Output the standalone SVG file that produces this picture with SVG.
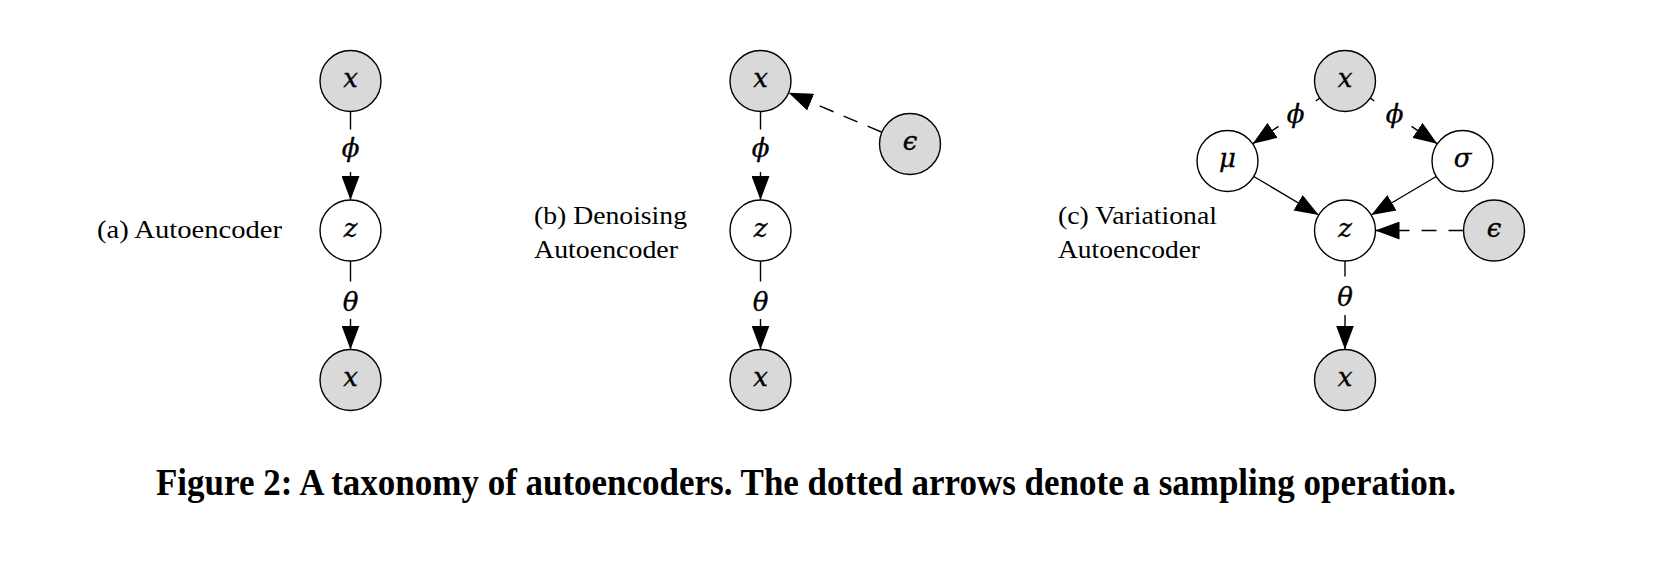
<svg xmlns="http://www.w3.org/2000/svg" width="1658" height="562" viewBox="0 0 1658 562">
<style>
.nd{stroke:#000;stroke-width:1.4}
.g{fill:#d9d9d9}
.w{fill:#fff}
.m{font-family:"DejaVu Serif","Liberation Serif",serif;font-style:italic;font-size:26px;text-anchor:middle;fill:#000;stroke:#000;stroke-width:0.35}
.lb{font-family:"Liberation Serif","DejaVu Serif",serif;font-size:25.5px;fill:#000}
.cap{font-family:"Liberation Serif","DejaVu Serif",serif;font-size:37px;font-weight:bold;fill:#000}
.e{stroke:#000;stroke-width:1.4;fill:none}
.a{marker-end:url(#ah)}
.d{stroke-dasharray:15 11}
</style>
<defs>
<marker id="ah" viewBox="0 0 24 18" refX="24" refY="9" markerWidth="24" markerHeight="18" markerUnits="userSpaceOnUse" orient="auto"><path d="M0,0 L24,9 L0,18 z" fill="#000"/></marker>
</defs>
<rect width="1658" height="562" fill="#fff"/>

<g id="connectors">
<!-- (a) -->
<line class="e" x1="350.5" y1="111.5" x2="350.5" y2="129.5"/>
<line class="e a" x1="350.5" y1="172" x2="350.5" y2="200"/>
<line class="e" x1="350.5" y1="261" x2="350.5" y2="281.5"/>
<line class="e a" x1="350.5" y1="319" x2="350.5" y2="349.5"/>
<!-- (b) -->
<line class="e" x1="760.5" y1="111.5" x2="760.5" y2="129.5"/>
<line class="e a" x1="760.5" y1="172" x2="760.5" y2="200"/>
<line class="e" x1="760.5" y1="261" x2="760.5" y2="281.5"/>
<line class="e a" x1="760.5" y1="319" x2="760.5" y2="349.5"/>
<line class="e a d" x1="881.4" y1="132" x2="788.6" y2="92.8"/>
<!-- (c) -->
<line class="e" x1="1319.8" y1="98.2" x2="1315.7" y2="101"/>
<line class="e a" x1="1278.5" y1="126.3" x2="1252.7" y2="143.8"/>
<line class="e" x1="1370.2" y1="98.2" x2="1374.3" y2="101"/>
<line class="e a" x1="1411.5" y1="126.3" x2="1437.3" y2="143.8"/>
<line class="e a" x1="1253.8" y1="176.5" x2="1318.7" y2="215"/>
<line class="e a" x1="1436.2" y1="176.5" x2="1371.3" y2="215"/>
<line class="e a" x1="1463.5" y1="230.5" x2="1375.5" y2="230.5" style="stroke-dasharray:15 12"/>
<line class="e" x1="1345" y1="261" x2="1345" y2="276.5"/>
<line class="e a" x1="1345" y1="315" x2="1345" y2="349.5"/>
<!-- edge labels -->
<text class="m" x="350.5" y="157">ϕ</text>
<text class="m" x="350.5" y="311">θ</text>
<text class="m" x="760.5" y="157">ϕ</text>
<text class="m" x="760.5" y="311">θ</text>
<text class="m" x="1295.5" y="123">ϕ</text>
<text class="m" x="1394.5" y="123">ϕ</text>
<text class="m" x="1345" y="306">θ</text>
</g>

<g id="a-x-top"><circle class="nd g" cx="350.5" cy="81" r="30.5"/><text class="m" x="350.5" y="87">x</text></g>
<g id="a-z"><circle class="nd w" cx="350.5" cy="230.5" r="30.5"/><text class="m" x="350.5" y="236.5">z</text></g>
<g id="a-x-bot"><circle class="nd g" cx="350.5" cy="380" r="30.5"/><text class="m" x="350.5" y="386">x</text></g>

<g id="b-x-top"><circle class="nd g" cx="760.5" cy="81" r="30.5"/><text class="m" x="760.5" y="87">x</text></g>
<g id="b-eps"><circle class="nd g" cx="910" cy="144" r="30.5"/><text class="m" x="910" y="150">ϵ</text></g>
<g id="b-z"><circle class="nd w" cx="760.5" cy="230.5" r="30.5"/><text class="m" x="760.5" y="236.5">z</text></g>
<g id="b-x-bot"><circle class="nd g" cx="760.5" cy="380" r="30.5"/><text class="m" x="760.5" y="386">x</text></g>

<g id="c-x-top"><circle class="nd g" cx="1345" cy="81" r="30.5"/><text class="m" x="1345" y="87">x</text></g>
<g id="c-mu"><circle class="nd w" cx="1227.5" cy="161" r="30.5"/><text class="m" x="1227.5" y="167">μ</text></g>
<g id="c-sigma"><circle class="nd w" cx="1462.5" cy="161" r="30.5"/><text class="m" x="1462.5" y="167">σ</text></g>
<g id="c-z"><circle class="nd w" cx="1345" cy="230.5" r="30.5"/><text class="m" x="1345" y="236.5">z</text></g>
<g id="c-eps"><circle class="nd g" cx="1494" cy="230.5" r="30.5"/><text class="m" x="1494" y="236.5">ϵ</text></g>
<g id="c-x-bot"><circle class="nd g" cx="1345" cy="380" r="30.5"/><text class="m" x="1345" y="386">x</text></g>

<g id="labels">
<text class="lb" x="97" y="238" textLength="185" lengthAdjust="spacingAndGlyphs">(a) Autoencoder</text>
<text class="lb" x="534" y="224" textLength="153" lengthAdjust="spacingAndGlyphs">(b) Denoising</text>
<text class="lb" x="534" y="258" textLength="144" lengthAdjust="spacingAndGlyphs">Autoencoder</text>
<text class="lb" x="1058" y="224" textLength="159" lengthAdjust="spacingAndGlyphs">(c) Variational</text>
<text class="lb" x="1058" y="258" textLength="142" lengthAdjust="spacingAndGlyphs">Autoencoder</text>
<text class="cap" x="156" y="495" textLength="1300" lengthAdjust="spacingAndGlyphs">Figure 2: A taxonomy of autoencoders. The dotted arrows denote a sampling operation.</text>
</g>
</svg>
